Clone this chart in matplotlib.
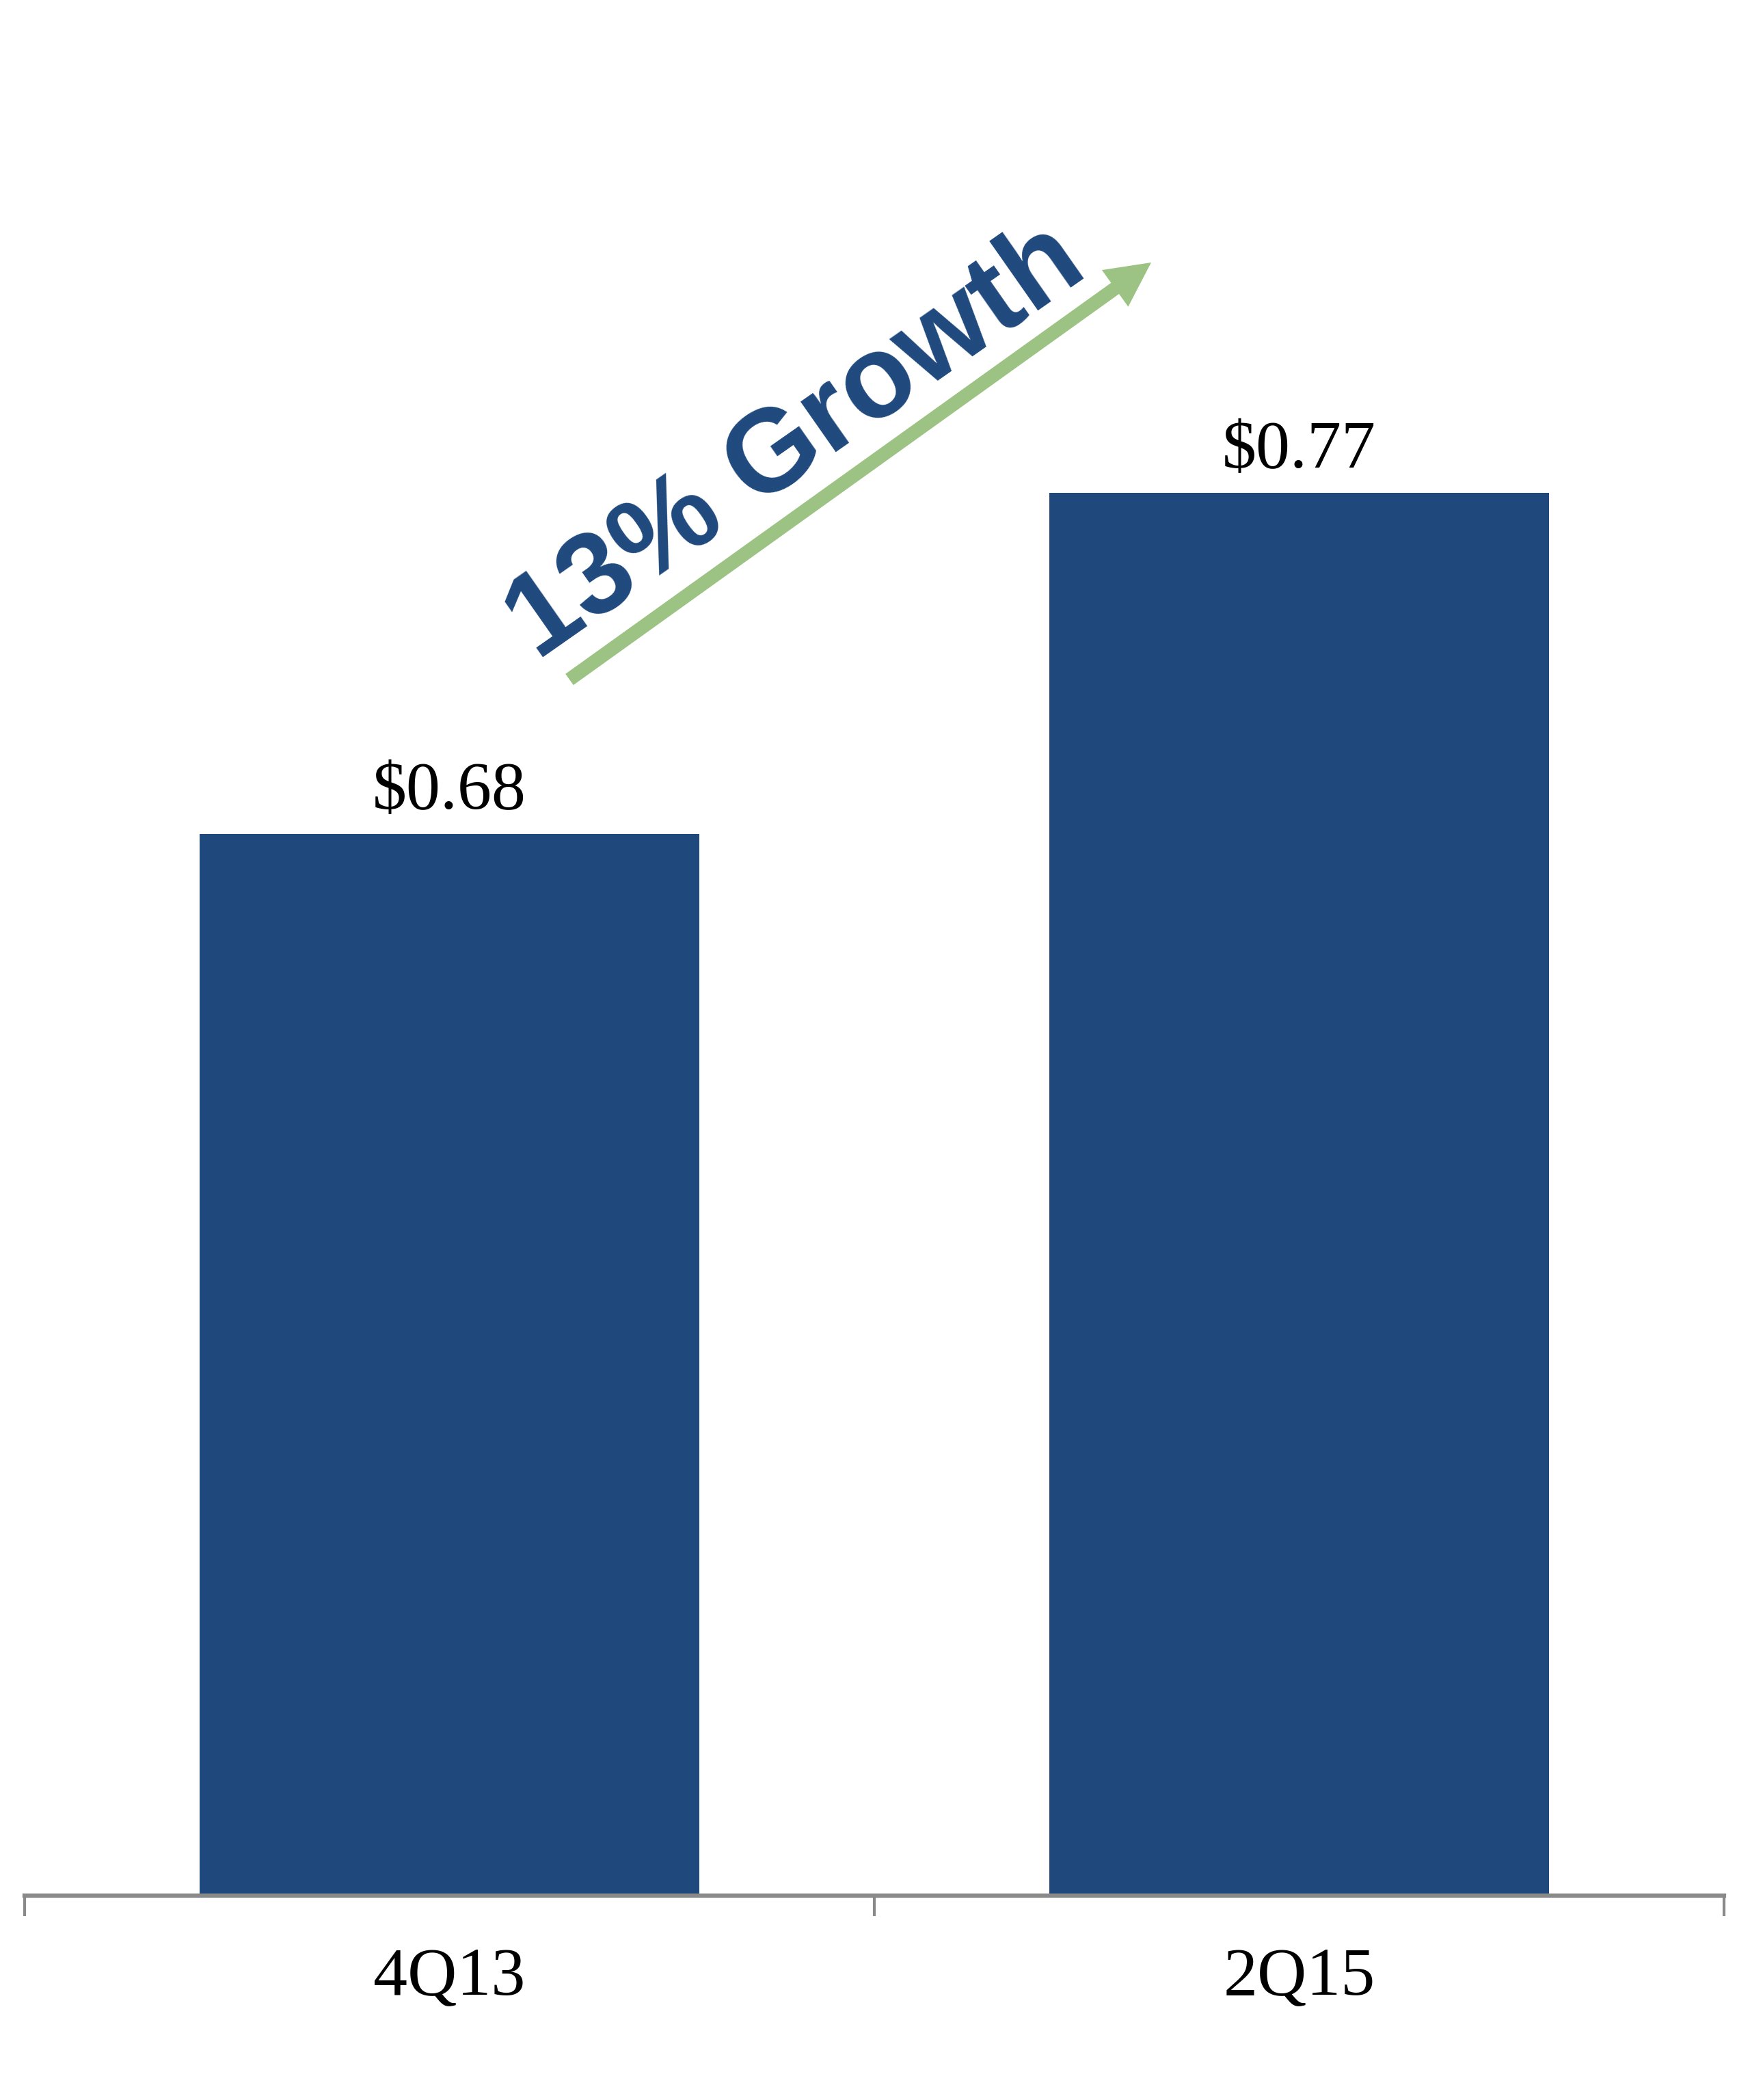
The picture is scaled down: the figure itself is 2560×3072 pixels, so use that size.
import matplotlib
matplotlib.use("Agg")
import matplotlib.pyplot as plt
from matplotlib.patches import FancyArrowPatch, ArrowStyle

# === data ===
periods = ["4Q13", "2Q15"]
values = [0.68, 0.77]
value_labels = ["$0.68", "$0.77"]
growth_text = "13% Growth"

bar_color = "#1F497D"
arrow_color = "#9DC384"
axis_color = "#898989"

fig = plt.figure(figsize=(25.6, 30.72), dpi=100)
ax = fig.add_axes([36 / 2560, 0.0973, 2486 / 2560, 0.9027])

x = [0.5, 1.5]
bars = ax.bar(x, values, width=0.588, color=bar_color, zorder=1)

ax.set_xlim(0, 2)
ax.set_ylim(0.40, 0.90)

# value labels on top of bars
for xi, v, lab in zip(x, values, value_labels):
    ax.annotate(lab, xy=(xi, v), xytext=(0, 26.5), textcoords="offset points",
                ha="center", va="baseline", fontsize=72,
                family="Liberation Serif", color="black")

# axes styling
for s in ["top", "right", "left"]:
    ax.spines[s].set_visible(False)
ax.spines["bottom"].set_color(axis_color)
ax.spines["bottom"].set_linewidth(4.5)
ax.set_yticks([])

ax.set_xticks([0, 1, 2])
ax.set_xticklabels([])
ax.tick_params(axis="x", which="major", direction="out", length=21.6,
               width=3, color=axis_color)
ax.set_xticks(x, minor=True)
ax.set_xticklabels(periods, minor=True, fontsize=72, family="Liberation Serif")
ax.tick_params(axis="x", which="minor", length=0, pad=54)

# growth arrow
arrow = FancyArrowPatch((833 / 2560, 1 - 994 / 3072), (1684 / 2560, 1 - 384 / 3072),
                        transform=fig.transFigure,
                        arrowstyle=ArrowStyle.Simple(head_length=46.8, head_width=47.5,
                                                     tail_width=14.4),
                        mutation_scale=1, shrinkA=0, shrinkB=0,
                        color=arrow_color, linewidth=0)
fig.patches.append(arrow)

fig.text(1190 / 2560, 1 - 684 / 3072, growth_text, rotation=35, rotation_mode="anchor",
         ha="center", va="baseline", fontsize=123, fontweight="bold",
         family="Liberation Sans", color=bar_color)

fig.savefig("out.png", dpi=100, facecolor="white")
